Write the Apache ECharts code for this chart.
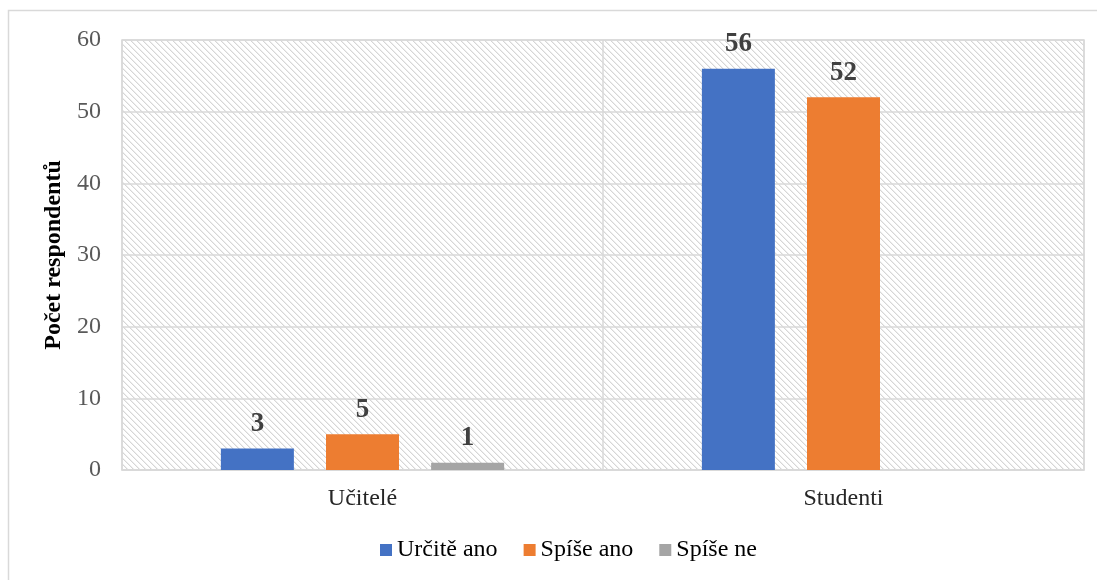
<!DOCTYPE html>
<html>
<head>
<meta charset="utf-8">
<script src="https://cdn.jsdelivr.net/npm/echarts@6/dist/echarts.min.js"></script>
<style>
  html, body { margin: 0; padding: 0; background: #ffffff; }
  #chart { width: 1097px; height: 580px; }
</style>
</head>
<body>
<div id="chart"></div>
<script>
// Respondent groups and answer counts
const categories = ['Učitelé', 'Studenti'];
const seriesNames = ['Určitě ano', 'Spíše ano', 'Spíše ne'];
const urciteAno = [3, 56];
const spiseAno = [5, 52];
const spiseNe = [1, null];
const yTicks = [0, 10, 20, 30, 40, 50, 60];

const colors = ['#4472C4', '#ED7D31', '#A5A5A5'];
const serif = '"Liberation Serif", "Times New Roman", serif';

// Light diagonal hatch for the plot background
function hatchTile() {
  const size = 6;
  const c = document.createElement('canvas');
  c.width = size; c.height = size;
  const ctx = c.getContext('2d');
  ctx.fillStyle = '#ffffff';
  ctx.fillRect(0, 0, size, size);
  for (let i = 0; i < size; i++) {
    ctx.fillStyle = '#d6d6d6';
    ctx.fillRect(i, i, 1, 1);
    ctx.fillStyle = '#eeeeee';
    ctx.fillRect((i + 1) % size, i, 1, 1);
  }
  return c;
}

const chart = echarts.init(document.getElementById('chart'), null, { renderer: 'canvas' });

const values = [urciteAno, spiseAno, spiseNe];

chart.setOption({
  animation: false,
  backgroundColor: '#ffffff',
  graphic: [{
    type: 'rect',
    shape: { x: 8.5, y: 10.5, width: 1200, height: 700 },
    style: { fill: 'none', stroke: '#d9d9d9', lineWidth: 1.5 },
    silent: true,
    z: -1
  }],
  grid: {
    left: 122,
    right: 13,
    top: 40,
    bottom: 110,
    show: true,
    backgroundColor: { image: hatchTile(), repeat: 'repeat' },
    borderColor: '#d9d9d9',
    borderWidth: 1.5
  },
  legend: {
    data: seriesNames,
    bottom: 13,
    left: 375,
    itemWidth: 12,
    itemHeight: 12,
    itemGap: 26,
    icon: 'rect',
    textStyle: { fontFamily: serif, fontSize: 24, color: '#000000' }
  },
  xAxis: {
    type: 'category',
    data: categories,
    axisTick: { show: false },
    axisLine: { show: true, lineStyle: { color: '#d9d9d9', width: 1.5 } },
    splitLine: { show: true, interval: 0, lineStyle: { color: '#d9d9d9', width: 1.5 } },
    axisLabel: { fontFamily: serif, fontSize: 24, color: '#262626', margin: 17 }
  },
  yAxis: {
    type: 'value',
    min: yTicks[0],
    max: yTicks[yTicks.length - 1],
    interval: yTicks[1] - yTicks[0],
    name: 'Počet respondentů',
    nameLocation: 'middle',
    nameRotate: 90,
    nameGap: 41,
    nameTextStyle: { fontFamily: serif, fontSize: 24, fontWeight: 'bold', color: '#000000' },
    axisLine: { show: false },
    axisTick: { show: false },
    splitLine: { show: true, lineStyle: { color: '#d9d9d9', width: 1.5 } },
    axisLabel: { fontFamily: serif, fontSize: 24, color: '#595959', margin: 21 }
  },
  series: seriesNames.map((name, i) => ({
    name: name,
    type: 'bar',
    data: values[i],
    barWidth: 73,
    barGap: '44%',
    itemStyle: { color: colors[i] },
    label: {
      show: true,
      position: 'top',
      distance: 11,
      fontFamily: serif,
      fontSize: 27,
      fontWeight: 'bold',
      color: '#404040'
    }
  }))
});
</script>
</body>
</html>
